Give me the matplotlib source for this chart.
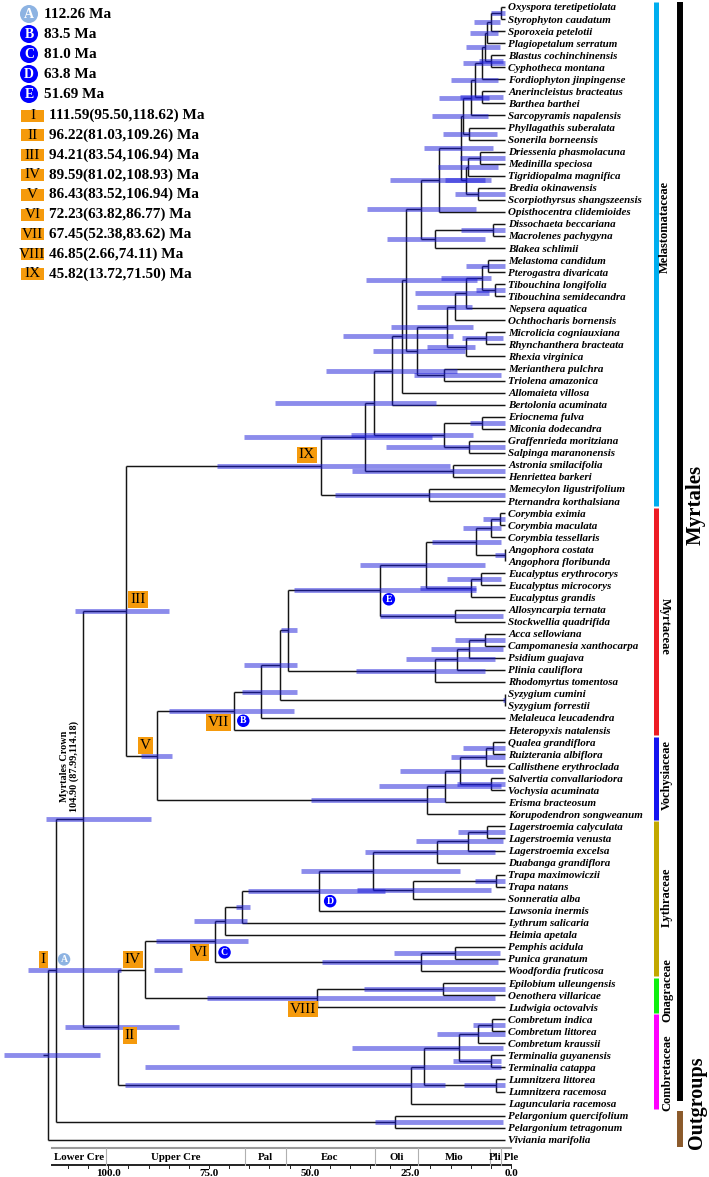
import matplotlib
matplotlib.use("Agg")
import matplotlib.pyplot as plt
import matplotlib.transforms as mtransforms
from matplotlib.patches import Rectangle, Circle

plt.rcParams['font.family'] = ['Liberation Serif', 'DejaVu Serif']

# ---------------- tree data (ages in Ma) ----------------
node_ids = [
    'm1', 'm2', 'm3', 'm4', 'm5', 'm6', 'm7', 'm8', 'm9', 'm10',
    'm11', 'm12', 'm13', 'm14', 'm15', 'm16', 'm17', 'm18', 'm19', 'm20',
    'm21', 'm22', 'm23', 'm24', 'm25', 'm26', 'm27', 'm28', 'm29', 'm30',
    'm31', 'm32', 'm33', 'm34', 'm35', 'm36', 'm37', 'm38', 'm39', 'm40', 'IX',
    'y1', 'y2', 'y3', 'y4', 'y5', 'y6', 'y7', 'y8', 'y9', 'y10',
    'y11', 'y12', 'y13', 'y14', 'y15', 'y16', 'y17', 'VII',
    'v1', 'v2', 'v3', 'v4', 'v5', 'v6', 'V', 'III',
    'l1', 'l2', 'l3', 'l4', 'l5', 'l6', 'l7', 'l8', 'l9', 'l10', 'l11', 'VI',
    'o1', 'VIII', 'IV',
    'c1', 'c2', 'c3', 'c4', 'c5', 'c6', 'c7', 'II',
    'crown', 'pel', 'I', 'root',
]
node_kids = [
    ('Oxyspora teretipetiolata', 'Styrophyton caudatum'), ('m1', 'Sporoxeia petelotii'),
    ('m2', 'Plagiopetalum serratum'), ('Blastus cochinchinensis', 'Cyphotheca montana'),
    ('m3', 'm4'), ('m5', 'Fordiophyton jinpingense'), ('Anerincleistus bracteatus', 'Barthea barthei'),
    ('m6', 'm7'), ('m8', 'Sarcopyramis napalensis'), ('Phyllagathis suberalata', 'Sonerila borneensis'),
    ('m9', 'm10'), ('Driessenia phasmolacuna', 'Medinilla speciosa'), ('m12', 'Tigridiopalma magnifica'),
    ('Bredia okinawensis', 'Scorpiothyrsus shangszeensis'), ('m13', 'm14'), ('m11', 'm15'),
    ('m16', 'Opisthocentra clidemioides'), ('Dissochaeta beccariana', 'Macrolenes pachygyna'),
    ('m18', 'Blakea schlimii'), ('m17', 'm19'),
    ('Melastoma candidum', 'Pterogastra divaricata'), ('Tibouchina longifolia', 'Tibouchina semidecandra'),
    ('m21', 'm22'), ('m23', 'Nepsera aquatica'), ('m24', 'Ochthocharis bornensis'),
    ('Microlicia cogniauxiana', 'Rhynchanthera bracteata'), ('m26', 'Rhexia virginica'), ('m25', 'm27'),
    ('Merianthera pulchra', 'Triolena amazonica'), ('m28', 'm29'),
    ('m20', 'm30'), ('m31', 'Allomaieta villosa'), ('m32', 'Bertolonia acuminata'),
    ('Eriocnema fulva', 'Miconia dodecandra'), ('Graffenrieda moritziana', 'Salpinga maranonensis'),
    ('m34', 'm35'), ('m33', 'm36'), ('Astronia smilacifolia', 'Henriettea barkeri'), ('m37', 'm38'),
    ('Memecylon ligustrifolium', 'Pternandra korthalsiana'), ('m39', 'm40'),
    ('Corymbia eximia', 'Corymbia maculata'), ('y1', 'Corymbia tessellaris'),
    ('Angophora costata', 'Angophora floribunda'), ('y2', 'y3'),
    ('Eucalyptus erythrocorys', 'Eucalyptus microcorys'), ('y5', 'Eucalyptus grandis'), ('y4', 'y6'),
    ('Allosyncarpia ternata', 'Stockwellia quadrifida'), ('y7', 'y8'),
    ('Acca sellowiana', 'Campomanesia xanthocarpa'), ('y10', 'Psidium guajava'), ('y11', 'Plinia cauliflora'),
    ('y12', 'Rhodomyrtus tomentosa'), ('y9', 'y13'), ('Syzygium cumini', 'Syzygium forrestii'),
    ('y14', 'y15'), ('y16', 'Melaleuca leucadendra'), ('y17', 'Heteropyxis natalensis'),
    ('Qualea grandiflora', 'Ruizterania albiflora'), ('v1', 'Callisthene erythroclada'),
    ('Salvertia convallariodora', 'Vochysia acuminata'), ('v2', 'v3'), ('v4', 'Erisma bracteosum'),
    ('v5', 'Korupodendron songweanum'), ('VII', 'v6'), ('IX', 'V'),
    ('Lagerstroemia calyculata', 'Lagerstroemia venusta'), ('l1', 'Lagerstroemia excelsa'),
    ('l2', 'Duabanga grandiflora'), ('Trapa maximowiczii', 'Trapa natans'), ('l4', 'Sonneratia alba'),
    ('l3', 'l5'), ('l6', 'Lawsonia inermis'), ('l7', 'Lythrum salicaria'), ('l8', 'Heimia apetala'),
    ('Pemphis acidula', 'Punica granatum'), ('l10', 'Woodfordia fruticosa'), ('l9', 'l11'),
    ('Epilobium ulleungensis', 'Oenothera villaricae'), ('o1', 'Ludwigia octovalvis'), ('VI', 'VIII'),
    ('Combretum indica', 'Combretum littorea'), ('c1', 'Combretum kraussii'),
    ('Terminalia guyanensis', 'Terminalia catappa'), ('c2', 'c3'),
    ('Lumnitzera littorea', 'Lumnitzera racemosa'), ('c4', 'c5'), ('c6', 'Laguncularia racemosa'),
    ('IV', 'c7'),
    ('III', 'II'), ('Pelargonium quercifolium', 'Pelargonium tetragonum'), ('crown', 'pel'),
    ('I', 'Viviania marifolia'),
]
node_age = [
    1.2, 3.7, 4.5, 3.5, 5.0, 5.8, 5.8, 7.6, 8.6, 9.1,
    10.5, 6.4, 9.4, 6.8, 9.9, 11.1, 16.4, 3.0, 17.5, 21.0,
    4.3, 2.6, 5.8, 9.9, 12.5, 4.7, 9.9, 14.5, 15.2, 22.0,
    24.7, 25.7, 28.2, 5.8, 9.1, 15.2, 32.7, 13.1, 34.8, 18.9, 45.82,
    1.4, 3.6, 0.2, 7.2, 6.1, 8.6, 19.7, 12.4, 31.1, 5.1,
    9.1, 12.1, 17.5, 53.9, 0.2, 56.0, 60.6, 67.45,
    3.0, 4.7, 3.5, 11.3, 15.0, 19.4, 86.43, 94.21,
    4.5, 9.4, 17.1, 2.4, 22.9, 32.9, 46.4, 65.4, 69.6, 12.5, 21.0, 72.23,
    15.4, 46.85, 89.59,
    3.3, 6.9, 3.6, 11.6, 2.4, 20.2, 23.4, 96.22,
    104.90, 27.4, 111.59, 113.6,
]
node_hpd = [
    (0.0, 3.5), (1.4, 7.8), (1.8, 8.8), (0.5, 6.5), (1.4, 9.7), (0.2, 10.5), (0.6, 11.3), (1.8, 13.4),
    (4.0, 16.5), (2.2, 15.4),
    (4.3, 18.3), (0.2, 11.3), (1.8, 16.7), (0.2, 12.5), (3.5, 15.0), (3.1, 20.1), (5.0, 28.6), (0.0, 11.0),
    (5.1, 29.5), (7.2, 34.4),
    (0.2, 9.7), (0.0, 7.2), (3.5, 16.0), (4.0, 22.4), (8.4, 22.0), (0.6, 10.9), (7.6, 19.5), (8.0, 28.4),
    (1.0, 22.6), (10.0, 32.9),
    (7.0, 34.6), (12.9, 40.4), (12.0, 44.5), (0.2, 8.8), (0.2, 29.6), (8.0, 38.4), (17.2, 57.3),
    (0.2, 38.1), (18.3, 65.0), (0.2, 42.4), (13.72, 71.50),
    (0.2, 5.5), (1.0, 10.5), (0.2, 2.6), (1.0, 18.3), (1.0, 14.5), (7.2, 21.2), (5.1, 36.0), (0.6, 31.2),
    (7.2, 52.5), (0.2, 12.5),
    (0.6, 18.5), (2.6, 24.7), (5.0, 37.0), (51.7, 55.7), (0.0, 0.6), (51.7, 65.0), (51.7, 65.5),
    (52.38, 83.62),
    (0.2, 10.5), (0.2, 13.4), (0.2, 12.1), (0.6, 26.1), (1.0, 31.5), (15.0, 48.3), (82.8, 90.5),
    (83.54, 106.94),
    (0.2, 11.7), (0.6, 22.2), (2.6, 34.8), (0.0, 7.6), (3.5, 36.9), (11.3, 50.7), (30.0, 64.0),
    (63.3, 66.8), (64.1, 77.3), (1.4, 27.6), (1.8, 45.5), (63.82, 86.77),
    (0.2, 35.1), (2.66, 74.11), (80.2, 87.2),
    (0.0, 8.0), (0.2, 17.1), (1.0, 13.0), (0.6, 38.1), (0.2, 10.2), (1.0, 89.5), (15.0, 94.4),
    (81.03, 109.26),
    (87.99, 114.18), (0.5, 32.4), (95.50, 118.62), (100.6, 124.5),
]

# clades on the right
family_names = ['Melastomataceae', 'Myrtaceae', 'Vochysiaceae', 'Lythraceae', 'Onagraceae', 'Combretaceae']
family_first = ['Oxyspora teretipetiolata', 'Corymbia eximia', 'Qualea grandiflora',
                'Lagerstroemia calyculata', 'Epilobium ulleungensis', 'Combretum indica']
family_last = ['Pternandra korthalsiana', 'Heteropyxis natalensis', 'Korupodendron songweanum',
               'Woodfordia fruticosa', 'Ludwigia octovalvis', 'Laguncularia racemosa']
family_colors = ['#00aeef', '#ed1c24', '#1414f0', '#c2a800', '#10ee10', '#ff00ff']

# legend
letter_names = ['A', 'B', 'C', 'D', 'E']
letter_ages = ['112.26', '83.5', '81.0', '63.8', '51.69']
letter_nodes = ['I', 'VII', 'VI', 'l7', 'y9']
numeral_names = ['I', 'II', 'III', 'IV', 'V', 'VI', 'VII', 'VIII', 'IX']
numeral_ages = ['111.59(95.50,118.62)', '96.22(81.03,109.26)', '94.21(83.54,106.94)',
                '89.59(81.02,108.93)', '86.43(83.52,106.94)', '72.23(63.82,86.77)',
                '67.45(52.38,83.62)', '46.85(2.66,74.11)', '45.82(13.72,71.50)']

# geological scale
period_names = ['Lower Cre', 'Upper Cre', 'Pal', 'Eoc', 'Oli', 'Mio', 'Pli', 'Ple']
period_bounds = [114.0, 100.5, 66.0, 56.0, 33.9, 23.0, 5.3, 2.6, 0.0]
axis_ticks = [100.0, 75.0, 50.0, 25.0, 0.0]

# ---------------- layout ----------------
W, H = 709, 1177
TIP_PX, PX_MA = 505.4, 4.027
ROW0, ROW = 7.0, 12.05
axis_shift = 1.4
ORANGE = '#f59a0c'
BAR = (0.10, 0.10, 0.85)

kids = dict(zip(node_ids, node_kids))
age = dict(zip(node_ids, node_age))
hpd = dict(zip(node_ids, node_hpd))

leaves = []
def collect(n):
    if n in kids:
        for c in kids[n]:
            collect(c)
    else:
        leaves.append(n)
collect('root')
ypos = {n: i for i, n in enumerate(leaves)}

def place(n):
    if n in kids:
        ys = [place(c) for c in kids[n]]
        ypos[n] = (ys[0] + ys[-1]) / 2
    return ypos[n]
place('root')

def t(n):
    return age.get(n, 0.0)

fig = plt.figure(figsize=(W / 100, H / 100), dpi=100)
ax = fig.add_axes([0, 0, 1, 1])
ax.set_xlim(TIP_PX / PX_MA, (TIP_PX - W) / PX_MA)
ax.set_ylim((H - ROW0) / ROW, -ROW0 / ROW)
ax.axis('off')
ov = fig.add_axes([0, 0, 1, 1])
ov.set_xlim(0, W)
ov.set_ylim(H, 0)
ov.axis('off')

# branches
for n in node_ids:
    c1, c2 = kids[n]
    ax.vlines(t(n), ypos[c1], ypos[c2], color='#151515', lw=1.05, zorder=2)
    for c in kids[n]:
        ax.hlines(ypos[c], t(n), t(c), color='#151515', lw=1.05, zorder=2)
ax.hlines(ypos['root'], t('root'), t('root') + 1.2, color='#151515', lw=1.05, zorder=2)

# 95% HPD bars
for n in node_ids:
    lo, hi = hpd[n]
    ax.hlines(ypos[n], lo, hi, color=BAR, alpha=0.5, lw=3.5, zorder=3)

# tip labels
for leaf in leaves:
    ax.annotate(leaf, (0, ypos[leaf]), xytext=(3, 0), textcoords='offset pixels',
                ha='left', va='center_baseline', fontsize=7.9, fontweight='bold', style='italic')

# node labels
num_offsets = {'I': (-12.7, -11), 'II': (12, 8), 'III': (12, -11), 'IV': (-12, -10), 'V': (-12, -10),
               'VI': (-15, 11), 'VII': (-15, 12), 'VIII': (-14, 11), 'IX': (-14, -11)}
for name in numeral_names:
    dx, dy = num_offsets[name]
    ax.annotate(name, (t(name), ypos[name]), xytext=(dx, -dy), textcoords='offset pixels',
                ha='center', va='center', fontsize=11, zorder=6,
                bbox=dict(boxstyle='square,pad=0.12', fc=ORANGE, ec='none'))
let_offsets = [(8, -11), (9.5, 10), (10, 11), (11.6, 10.4), (8.7, 9)]
for name, n, (dx, dy) in zip(letter_names, letter_nodes, let_offsets):
    fc = '#8db3e2' if name == 'A' else '#0000ff'
    ax.annotate(name, (t(n), ypos[n]), xytext=(dx, -dy), textcoords='offset pixels',
                ha='center', va='center', fontsize=7, fontweight='bold', color='white', zorder=6,
                bbox=dict(boxstyle='circle,pad=0.18', fc=fc, ec='none'))

# Myrtales crown annotation
ax.annotate('Myrtales Crown\n104.90 (87.99,114.18)',
            ((t('I') + t('crown')) / 2, ypos['crown']), xytext=(0, 7), textcoords='offset pixels',
            rotation=90, ha='center', va='bottom', multialignment='center',
            fontsize=7.3, fontweight='bold', linespacing=1.05)

# clade bars on the right
yx = mtransforms.blended_transform_factory(ov.transData, ax.transData)
for name, a, b, col in zip(family_names, family_first, family_last, family_colors):
    ax.plot([655.5, 655.5], [ypos[a] - 0.45, ypos[b] + 0.45], transform=yx, color=col,
            lw=3.6, solid_capstyle='butt', clip_on=False)
ax.plot([680, 680], [ypos['Oxyspora teretipetiolata'] - 0.45, ypos['Laguncularia racemosa'] - 0.25],
        transform=yx, color='black', lw=4.3, solid_capstyle='butt', clip_on=False)
ax.plot([680, 680], [ypos['Pelargonium quercifolium'] - 0.4, ypos['Viviania marifolia'] + 0.6],
        transform=yx, color='#8b5a2b', lw=4.3, solid_capstyle='butt', clip_on=False)

fam_text = {'Melastomataceae': (665, 227, 90), 'Myrtaceae': (665, 626, 270),
            'Vochysiaceae': (667, 775, 90), 'Lythraceae': (667, 897, 90),
            'Onagraceae': (667, 990, 90), 'Combretaceae': (667, 1073, 90)}
for name in family_names:
    x, y, r = fam_text[name]
    ov.text(x, y, name, rotation=r, ha='center', va='center', fontsize=9, fontweight='bold')
ov.text(696, 505, 'Myrtales', rotation=90, ha='center', va='center', fontsize=15, fontweight='bold')
ov.text(697, 1103, 'Outgroups', rotation=90, ha='center', va='center', fontsize=14.5, fontweight='bold')

# legend
for i, (name, val) in enumerate(zip(letter_names, letter_ages)):
    y = 14 + 20 * i
    fc = '#8db3e2' if name == 'A' else '#0000ff'
    ov.add_patch(Circle((29, y), 9, fc=fc, ec='none'))
    ov.text(29, y, name, ha='center', va='center', color='white', fontsize=10, fontweight='bold')
    ov.text(44, y, val + ' Ma', ha='left', va='center', fontsize=11, fontweight='bold')
for i, (name, val) in enumerate(zip(numeral_names, numeral_ages)):
    y = 115.5 + 19.8 * i
    ov.add_patch(Rectangle((21, y - 6), 22.5, 12, fc=ORANGE, ec='none'))
    ov.text(32.5, y, name, ha='center', va='center', fontsize=11)
    ov.text(49, y, val + ' Ma', ha='left', va='center', fontsize=11, fontweight='bold')

# geological time scale
ts = mtransforms.blended_transform_factory(ax.transData, ov.transData)
def sx(T):
    return T - axis_shift
ax.plot([sx(period_bounds[0]), sx(0)], [1148, 1148], transform=ts, color='#9a9a9a', lw=1.5, clip_on=False)
ax.plot([sx(period_bounds[0]), sx(0)], [1165, 1165], transform=ts, color='#222222', lw=1.4, clip_on=False)
for b in period_bounds[1:-1]:
    ax.plot([sx(b), sx(b)], [1148, 1165], transform=ts, color='#b0b0b0', lw=0.8, clip_on=False)
for k, name in enumerate(period_names):
    a, b = period_bounds[k], period_bounds[k + 1]
    if name == 'Ple':
        ax.text(sx(a), 1157, ' ' + name, transform=ts, ha='left', va='center', fontsize=7.8, fontweight='bold')
    else:
        ax.text(sx((a + b) / 2), 1157, name, transform=ts, ha='center', va='center',
                fontsize=7.8, fontweight='bold')
for T in range(110, -1, -5):
    ax.plot([sx(T), sx(T)], [1165, 1168], transform=ts, color='#222222', lw=0.7, clip_on=False)
for T in axis_ticks:
    ax.text(sx(T), 1173, f'{T:.1f}', transform=ts, ha='center', va='center', fontsize=8, fontweight='bold')

fig.savefig('out.png', dpi=100)
